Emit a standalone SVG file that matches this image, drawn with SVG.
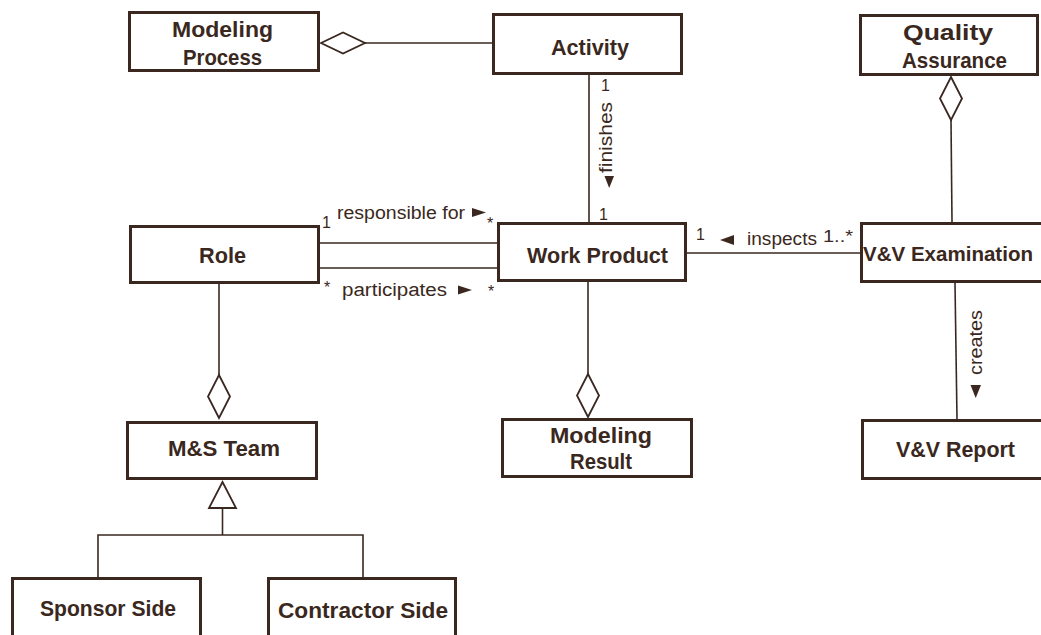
<svg xmlns="http://www.w3.org/2000/svg" width="1041" height="635" viewBox="0 0 1041 635">
  <style>
    .box { fill: #ffffff; stroke: #3a2820; stroke-width: 3; }
    .name { font-family: "Liberation Sans", Arial, sans-serif; font-weight: bold; font-size: 22px; fill: #3a2820; text-anchor: middle; }
    .lbl { font-family: "Liberation Sans", Arial, sans-serif; font-size: 18px; fill: #3a2820; }
    .mult { font-family: "Liberation Sans", Arial, sans-serif; font-size: 16px; fill: #3a2820; }
    .line { fill: none; stroke: #3a2820; stroke-width: 1.6; }
    .agg { fill: #ffffff; stroke: #3a2820; stroke-width: 1.8; }
    .dir { fill: #3a2820; stroke: none; }
  </style>
  <rect width="1041" height="635" fill="#ffffff"/>

  <!-- connectors -->
  <g id="connectors">
    <!-- Activity aggregated by Modeling Process -->
    <line class="line" x1="365" y1="43" x2="493" y2="43"/>
    <polygon class="agg" points="321,43 343,32.5 365,43 343,53.5"/>

    <!-- Activity finishes Work Product -->
    <line class="line" x1="589" y1="75" x2="589" y2="222"/>
    <text class="mult" x="601" y="91">1</text>
    <text class="lbl" transform="translate(612,137.5) rotate(-90)" text-anchor="middle" textLength="71" lengthAdjust="spacingAndGlyphs">finishes</text>
    <polygon class="dir" points="604.5,176 614,176 609.2,188"/>
    <text class="mult" x="599" y="220">1</text>

    <!-- Role responsible for Work Product -->
    <line class="line" x1="320" y1="243" x2="497" y2="243"/>
    <text class="mult" x="322" y="228">1</text>
    <text class="lbl" x="337" y="219" textLength="128" lengthAdjust="spacingAndGlyphs">responsible for</text>
    <polygon class="dir" points="472,208 486,212.5 472,217"/>
    <text class="mult" x="487" y="229">*</text>

    <!-- Role participates Work Product -->
    <line class="line" x1="320" y1="268" x2="497" y2="268"/>
    <text class="mult" x="324" y="293">*</text>
    <text class="lbl" x="342" y="296" textLength="105" lengthAdjust="spacingAndGlyphs">participates</text>
    <polygon class="dir" points="458,285.5 472,290 458,294.5"/>
    <text class="mult" x="488" y="297">*</text>

    <!-- V&V Examination inspects Work Product -->
    <line class="line" x1="687" y1="253" x2="860" y2="253"/>
    <text class="mult" x="696" y="240">1</text>
    <polygon class="dir" points="720,240 734,235 734,245"/>
    <text class="lbl" x="747" y="245" textLength="70" lengthAdjust="spacingAndGlyphs">inspects</text>
    <text class="mult" x="823" y="242" textLength="30" lengthAdjust="spacingAndGlyphs">1..*</text>

    <!-- V&V Examination aggregated by Quality Assurance -->
    <line class="line" x1="951" y1="120" x2="952" y2="222"/>
    <polygon class="agg" points="951,77 962,98.5 951,120 940,98.5"/>

    <!-- V&V Examination creates V&V Report -->
    <line class="line" x1="955" y1="283" x2="957" y2="419"/>
    <text class="lbl" transform="translate(982,342.5) rotate(-90)" text-anchor="middle" textLength="65" lengthAdjust="spacingAndGlyphs">creates</text>
    <polygon class="dir" points="970.5,385 981,385 975.7,398"/>

    <!-- M&S Team aggregated by Role -->
    <line class="line" x1="219" y1="284" x2="219" y2="375"/>
    <polygon class="agg" points="219,375 230,396.5 219,418 208,396.5"/>

    <!-- Modeling Result aggregated by Work Product -->
    <line class="line" x1="588" y1="282" x2="588" y2="374"/>
    <polygon class="agg" points="588,374 599,395.5 588,417 577,395.5"/>

    <!-- generalization: Sponsor Side / Contractor Side to M&S Team -->
    <polyline class="line" points="98,577 98,535 363,535 363,577"/>
    <line class="line" x1="222.5" y1="508" x2="222.5" y2="535"/>
    <polygon class="agg" points="222.5,482 236,508 209,508"/>
  </g>

  <!-- classes -->
  <g id="modeling-process">
    <rect class="box" x="129.5" y="12.5" width="189" height="58"/>
    <text class="name" x="222.5" y="37" textLength="101" lengthAdjust="spacingAndGlyphs">Modeling</text>
    <text class="name" x="222.5" y="65" textLength="79" lengthAdjust="spacingAndGlyphs">Process</text>
  </g>
  <g id="activity">
    <rect class="box" x="493.5" y="14.5" width="188" height="59"/>
    <text class="name" x="590" y="55" textLength="78" lengthAdjust="spacingAndGlyphs">Activity</text>
  </g>
  <g id="quality-assurance">
    <rect class="box" x="860.5" y="15.5" width="177" height="59"/>
    <text class="name" x="948" y="40" textLength="90" lengthAdjust="spacingAndGlyphs">Quality</text>
    <text class="name" x="954.5" y="68" textLength="105" lengthAdjust="spacingAndGlyphs">Assurance</text>
  </g>
  <g id="role">
    <rect class="box" x="130.5" y="226.5" width="188" height="56"/>
    <text class="name" x="222.5" y="263" textLength="47" lengthAdjust="spacingAndGlyphs">Role</text>
  </g>
  <g id="work-product">
    <rect class="box" x="498.5" y="223.5" width="187" height="57"/>
    <text class="name" x="597.5" y="263" textLength="141" lengthAdjust="spacingAndGlyphs">Work Product</text>
  </g>
  <g id="vv-examination">
    <path class="box" d="M1041,223.5 H861.5 V281.5 H1041"/>
    <text class="name" x="948" y="261" style="font-size:20px" textLength="170" lengthAdjust="spacingAndGlyphs">V&amp;V Examination</text>
  </g>
  <g id="ms-team">
    <rect class="box" x="127.5" y="422.5" width="189" height="56"/>
    <text class="name" x="224" y="456" textLength="112" lengthAdjust="spacingAndGlyphs">M&amp;S Team</text>
  </g>
  <g id="modeling-result">
    <rect class="box" x="502.5" y="419.5" width="189" height="57"/>
    <text class="name" x="601" y="443" textLength="102" lengthAdjust="spacingAndGlyphs">Modeling</text>
    <text class="name" x="601" y="469" textLength="62" lengthAdjust="spacingAndGlyphs">Result</text>
  </g>
  <g id="vv-report">
    <path class="box" d="M1041,420.5 H862.5 V478.5 H1041"/>
    <text class="name" x="955.5" y="457" textLength="119" lengthAdjust="spacingAndGlyphs">V&amp;V Report</text>
  </g>
  <g id="sponsor-side">
    <rect class="box" x="12.5" y="578.5" width="188" height="80"/>
    <text class="name" x="108" y="616" textLength="136" lengthAdjust="spacingAndGlyphs">Sponsor Side</text>
  </g>
  <g id="contractor-side">
    <rect class="box" x="268.5" y="578.5" width="187" height="80"/>
    <text class="name" x="363" y="618" textLength="170" lengthAdjust="spacingAndGlyphs">Contractor Side</text>
  </g>
</svg>
